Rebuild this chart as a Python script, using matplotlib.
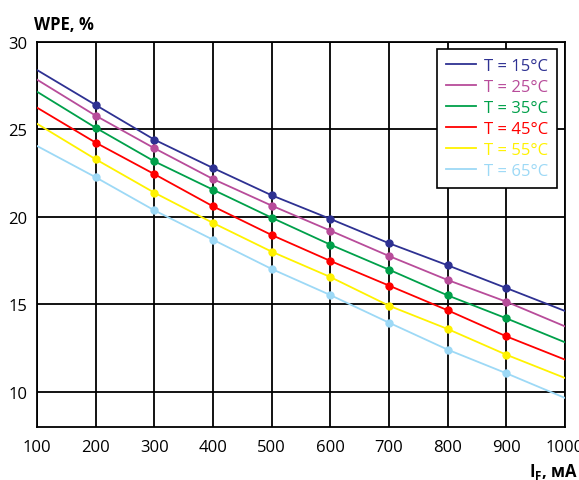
import matplotlib
matplotlib.use("Agg")
import matplotlib.pyplot as plt
from matplotlib.lines import Line2D

# ---------- data ----------
current_ma = [100, 200, 300, 400, 500, 600, 700, 800, 900, 1000]

wpe_15 = [28.40, 26.40, 24.42, 22.80, 21.24, 19.89, 18.50, 17.24, 15.94, 14.63]
wpe_25 = [27.85, 25.79, 23.93, 22.17, 20.65, 19.22, 17.77, 16.40, 15.16, 13.75]
wpe_35 = [27.16, 25.10, 23.18, 21.56, 19.96, 18.42, 16.99, 15.52, 14.21, 12.84]
wpe_45 = [26.25, 24.25, 22.45, 20.61, 18.97, 17.49, 16.08, 14.67, 13.18, 11.85]
wpe_55 = [25.33, 23.30, 21.39, 19.66, 18.02, 16.57, 14.93, 13.60, 12.13, 10.80]
wpe_65 = [24.06, 22.27, 20.38, 18.70, 17.03, 15.54, 13.96, 12.42, 11.07, 9.66]

labels = ["T = 15°C", "T = 25°C", "T = 35°C", "T = 45°C", "T = 55°C", "T = 65°C"]
colors = ["#2E3192", "#B84C9A", "#00A04A", "#FF0000", "#FFF200", "#9DD9F6"]

x_ticks = [100, 200, 300, 400, 500, 600, 700, 800, 900, 1000]
y_ticks = [10, 15, 20, 25, 30]

plt.rcParams["font.family"] = ["Open Sans", "DejaVu Sans"]
plt.rcParams["mathtext.fontset"] = "custom"
plt.rcParams["mathtext.bf"] = "Open Sans:bold"
plt.rcParams["mathtext.rm"] = "Open Sans"

fig = plt.figure(figsize=(5.79, 4.81), dpi=100)
ax = fig.add_axes([0.0639, 0.1102, 0.9119, 0.8004])

series = [wpe_15, wpe_25, wpe_35, wpe_45, wpe_55, wpe_65]
for ys, col in zip(series, colors):
    ax.plot(current_ma, ys, color=col, lw=1.3,
            marker="o", markersize=5, markevery=list(range(1, 9)),
            zorder=3)

ax.set_xlim(100, 1000)
ax.set_ylim(8, 30)
ax.set_xticks(x_ticks)
ax.set_yticks(y_ticks)
ax.tick_params(length=0, labelsize=12)
ax.tick_params(axis="x", pad=9)
ax.tick_params(axis="y", pad=7)
ax.grid(True, color="black", lw=1.3)
for sp in ax.spines.values():
    sp.set_linewidth(1.3)
    sp.set_color("black")

# legend: plain line handles, coloured text
handles = [Line2D([], [], color=c, lw=1.3) for c in colors]
leg = ax.legend(handles, labels, loc="upper right", bbox_to_anchor=(0.985, 0.982),
                borderaxespad=0, fontsize=12,
                frameon=True, fancybox=False, framealpha=1, edgecolor="black",
                handlelength=1.8, handletextpad=0.45, labelspacing=0.3,
                borderpad=0.55)
leg.get_frame().set_linewidth(1.2)
for txt, col in zip(leg.get_texts(), colors):
    txt.set_color(col)

fig.text(0.058, 0.937, "WPE, %", fontsize=12, fontweight="bold", ha="left")
fig.text(0.999, 0.008, r"I$_\mathbf{F}$, мА", fontsize=12, fontweight="bold",
         ha="right")

fig.savefig("out.png", dpi=100)
